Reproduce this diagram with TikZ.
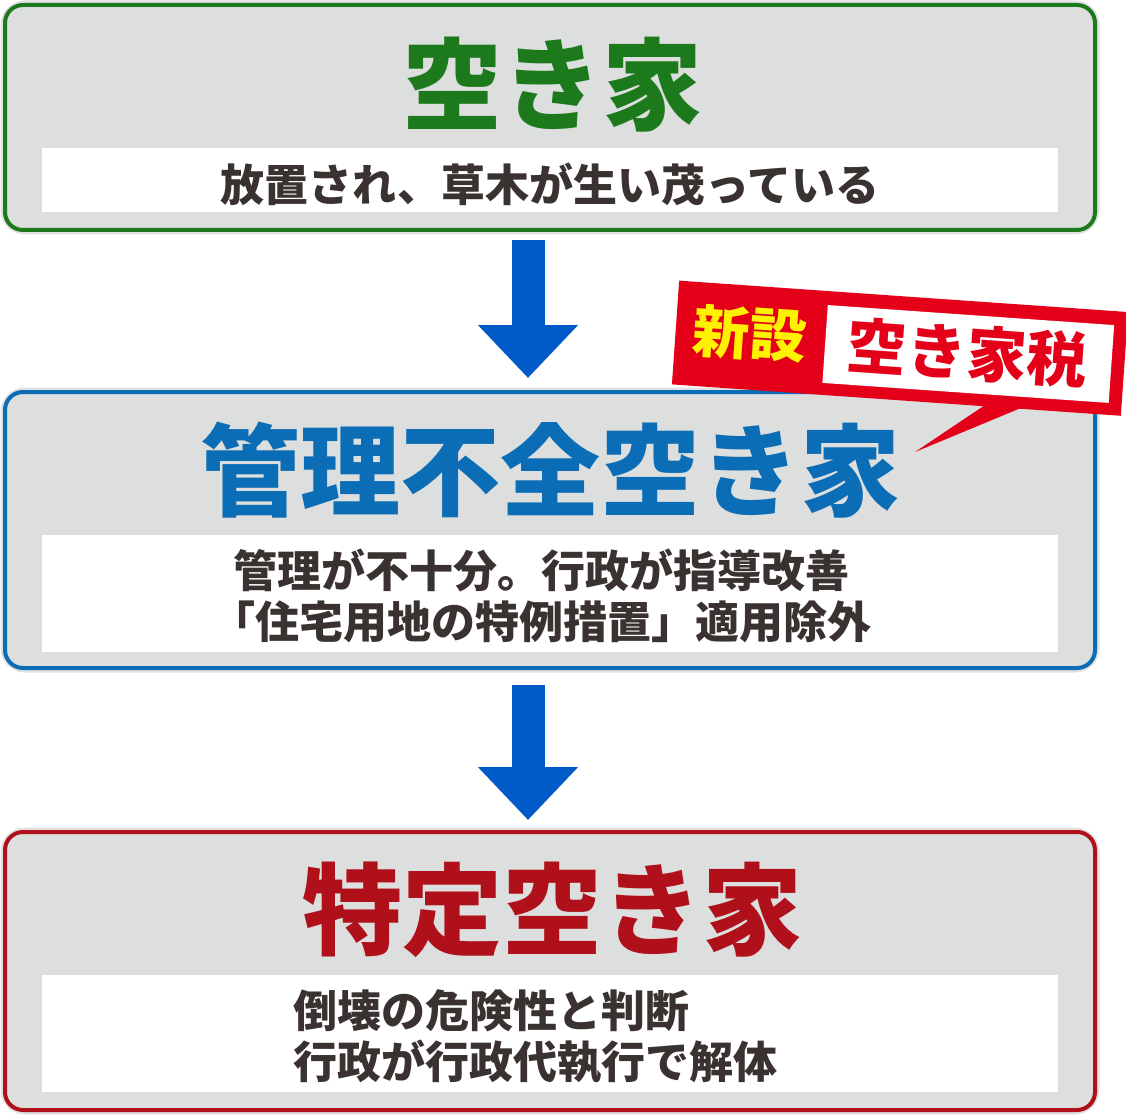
\documentclass[tikz,border=0pt]{standalone}
\usepackage{fontspec}
\setmainfont{Noto Sans CJK JP}
\usetikzlibrary{arrows.meta}
\definecolor{boxgray}{HTML}{DDDEDE}
\definecolor{kgreen}{HTML}{1C7A1C}
\definecolor{kblue}{HTML}{0B6DB5}
\definecolor{kred}{HTML}{B0101A}
\definecolor{txt}{HTML}{3A3230}
\definecolor{arrowblue}{HTML}{005BC8}
\definecolor{tagred}{HTML}{E5001A}
\tikzset{
  panel/.style={draw=#1, line width=4pt, fill=boxgray, rounded corners=18pt},
  halo/.style={draw=black!12, line width=9pt, rounded corners=20pt},
  strip/.style={fill=white, draw=none},
  title/.style={font=\bfseries\fontsize{100}{105}\selectfont, text=#1},
  note/.style={font=\bfseries\fontsize{44}{51}\selectfont, text=txt, align=left},
  flow/.style={arrowblue, line width=33pt, -{Triangle[width=97pt,length=53pt]}}
}
\begin{document}
\begin{tikzpicture}[x=1pt,y=-1pt]
  \useasboundingbox (0,0) rectangle (1126,1115);
  % panels
  \draw[halo] (5,5) rectangle (1095,230);
  \draw[panel=kgreen] (5,5) rectangle (1095,230);
  \fill[strip] (42,148) rectangle (1058,212);
  \draw[halo] (5,392) rectangle (1095,668);
  \draw[panel=kblue] (5,392) rectangle (1095,668);
  \fill[strip] (42,535) rectangle (1058,652);
  \draw[halo] (5,832) rectangle (1095,1110);
  \draw[panel=kred] (5,832) rectangle (1095,1110);
  \fill[strip] (42,975) rectangle (1058,1092);
  % titles
  \node[title=kgreen] (t1) at (552,85) {空き家};
  \node[note] (n1) at (550,184) {放置され、草木が生い茂っている};
  \node[title=kblue] (t2) at (550,470) {管理不全空き家};
  \node[note, anchor=west] (n2) at (208,596) {\hspace*{0.5em}管理が不十分。行政が指導改善\\「住宅用地の特例措置」適用除外};
  \node[title=kred] (t3) at (552,910) {特定空き家};
  \node[note, anchor=west] (n3) at (290,1037) {倒壊の危険性と判断\\行政が行政代執行で解体};
  % arrows
  \coordinate (a1s) at (528,240);
  \coordinate (a1e) at (528,378);
  \coordinate (a2s) at (528,685);
  \coordinate (a2e) at (528,820);
  \draw[flow] (a1s) -- (a1e);
  \draw[flow] (a2s) -- (a2e);
  % tag
  \fill[tagred] (1000,395) -- (915,452) -- (1045,398) -- cycle;
  \begin{scope}[shift={(897,348)}, rotate=-4]
    \fill[tagred] (-222,-52) rectangle (228,52);
    \fill[white] (-72,-38) rectangle (215,40);
    \node[font=\bfseries\fontsize{57}{60}\selectfont, text=yellow, rotate=-4] (tag) at (-148,-4) {新設};
    \node[font=\bfseries\fontsize{60}{60}\selectfont, text=tagred, rotate=-4] (tax) at (70,0) {空き家税};
  \end{scope}
\end{tikzpicture}
\end{document}
